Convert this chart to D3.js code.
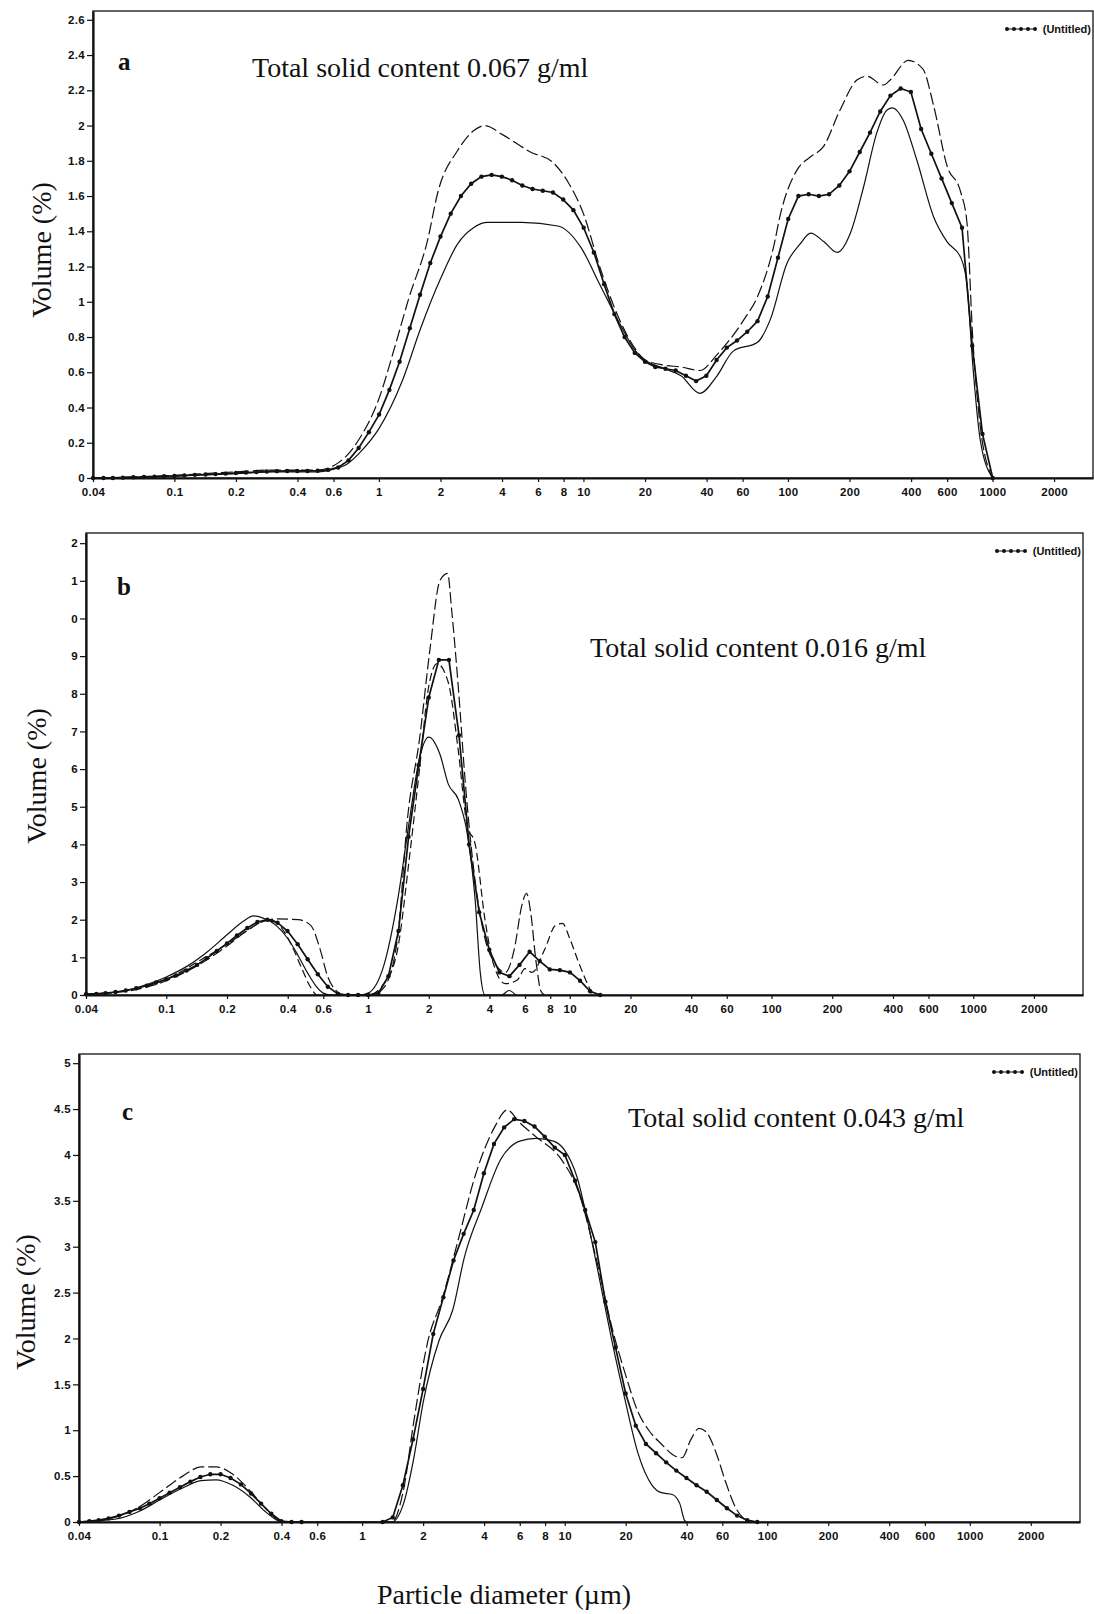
<!DOCTYPE html>
<html>
<head>
<meta charset="utf-8">
<script src="https://cdn.jsdelivr.net/npm/d3@7"></script>
<style>
  body { margin: 0; background: #fff; }
  svg { display: block; }
  .tick text { font-family: "Liberation Sans", Arial, sans-serif; font-weight: bold; font-size: 11.5px; letter-spacing: 0.3px; fill: #111; }
  .tick line { stroke: #111; stroke-width: 1.2; }
  .serif { font-family: "Liberation Serif", "Times New Roman", serif; fill: #111; }
</style>
</head>
<body>
<svg id="chart" width="1094" height="1614"></svg>
<script>
/**
 * DATA
 * size classes of the analyser (µm) - the mean curves are given per class
 */
const sizeClasses = [0.040,0.045,0.050,0.056,0.063,0.071,0.080,0.089,0.100,0.112,0.126,0.142,0.159,0.178,0.200,0.224,0.252,0.283,0.317,0.356,0.399,0.448,0.502,0.564,0.632,0.710,0.796,0.893,1.002,1.125,1.262,1.416,1.589,1.783,2.000,2.244,2.518,2.825,3.170,3.557,3.991,4.477,5.024,5.637,6.325,7.096,7.962,8.934,10.024,11.247,12.619,14.159,15.887,17.825,20.000,22.440,25.179,28.251,31.698,35.566,39.905,44.774,50.238,56.368,63.246,70.963,79.621,89.337,100.237,112.468,126.191,141.589,158.866,178.250,200.000,224.404,251.785,282.508,316.979,355.656,399.052,447.744,502.377,563.677,632.456,709.627,796.214,893.367,1002.374];

const xTicks = [0.04, 0.1, 0.2, 0.4, 0.6, 1, 2, 4, 6, 8, 10, 20, 40, 60, 100, 200, 400, 600, 1000, 2000];
const yTicksA = [0, 0.2, 0.4, 0.6, 0.8, 1, 1.2, 1.4, 1.6, 1.8, 2, 2.2, 2.4, 2.6];
const yTicksB = [0, 1, 2, 3, 4, 5, 6, 7, 8, 9, 10, 11, 12];
const yTicksC = [0, 0.5, 1, 1.5, 2, 2.5, 3, 3.5, 4, 4.5, 5];

// (a) mean volume % per size class
const meanA = [0,0,0,0.002,0.004,0.006,0.008,0.01,0.012,0.015,0.018,0.02,0.022,0.025,0.028,0.031,0.034,0.037,0.039,0.04,0.04,0.04,0.041,0.046,0.06,0.1,0.17,0.26,0.36,0.5,0.66,0.85,1.04,1.22,1.37,1.5,1.6,1.67,1.71,1.72,1.71,1.69,1.66,1.64,1.63,1.62,1.58,1.52,1.42,1.28,1.1,0.93,0.8,0.71,0.66,0.63,0.62,0.61,0.58,0.55,0.58,0.67,0.74,0.78,0.83,0.89,1.03,1.25,1.47,1.6,1.61,1.6,1.61,1.66,1.74,1.85,1.96,2.08,2.17,2.21,2.19,1.98,1.84,1.7,1.56,1.42,0.75,0.25,0];
// (a) single runs [size, volume]
const runA1 = [[0.04,0],[0.1,0.015],[0.2,0.035],[0.3,0.045],[0.5,0.045],[0.6,0.07],[0.7,0.13],[0.8,0.22],[1.0,0.45],[1.2,0.75],[1.4,1.02],[1.73,1.35],[1.94,1.62],[2.43,1.86],[2.9,1.97],[3.3,2.0],[4,1.95],[5.5,1.85],[7.1,1.79],[8.4,1.68],[10,1.5],[12,1.2],[15,0.9],[18,0.73],[20,0.67],[25,0.64],[30,0.63],[37,0.61],[45,0.7],[61,0.9],[71,1.03],[85,1.31],[92,1.5],[111,1.75],[128,1.82],[149,1.88],[180,2.09],[218,2.26],[243,2.28],[293,2.23],[317,2.26],[387,2.37],[457,2.32],[516,2.11],[600,1.77],[700,1.62],[750,1.45],[800,0.8],[870,0.3],[1000,0]];
const runA2 = [[0.04,0],[0.1,0.01],[0.2,0.025],[0.3,0.035],[0.5,0.035],[0.6,0.05],[0.7,0.08],[0.8,0.14],[1.0,0.28],[1.3,0.55],[1.6,0.85],[2.0,1.13],[2.43,1.33],[2.9,1.42],[3.4,1.45],[5,1.45],[7.5,1.43],[9.7,1.31],[12,1.1],[15,0.88],[18,0.72],[20,0.67],[25,0.62],[30,0.58],[37,0.48],[45,0.58],[54,0.72],[71,0.77],[82,0.9],[99,1.22],[115,1.33],[129,1.39],[150,1.34],[174,1.28],[202,1.39],[234,1.65],[272,1.96],[306,2.09],[324,2.1],[366,2.03],[425,1.81],[516,1.48],[600,1.34],[700,1.25],[750,1.1],[800,0.65],[870,0.22],[1000,0]];

// (b)
const meanB = [0.02,0.03,0.05,0.08,0.12,0.18,0.25,0.33,0.42,0.52,0.65,0.8,0.98,1.17,1.37,1.58,1.78,1.94,2.0,1.92,1.7,1.35,0.95,0.55,0.22,0.03,0,0,0,0.05,0.5,1.7,4.2,6.1,7.9,8.9,8.9,6.9,4.0,2.2,1.2,0.6,0.5,0.8,1.15,0.9,0.68,0.66,0.6,0.38,0.1,0];
const runB1 = [[0.04,0.02],[0.06,0.1],[0.08,0.28],[0.1,0.48],[0.13,0.8],[0.16,1.15],[0.2,1.6],[0.24,1.95],[0.27,2.1],[0.3,2.05],[0.35,1.85],[0.4,1.5],[0.45,1.05],[0.5,0.6],[0.55,0.25],[0.6,0.05],[0.65,0],[0.9,0],[1.0,0.05],[1.2,0.8],[1.4,2.5],[1.6,4.6],[1.8,6.3],[2.0,6.85],[2.27,6.4],[2.5,5.6],[2.8,5.2],[3.1,4.3],[3.4,2.5],[3.6,0.6],[3.8,0],[4.6,0],[5.0,0.12],[5.4,0]];
const runB2 = [[0.04,0.02],[0.06,0.08],[0.1,0.38],[0.15,0.85],[0.2,1.3],[0.25,1.7],[0.3,1.95],[0.35,2.02],[0.45,2.0],[0.52,1.85],[0.58,1.2],[0.63,0.5],[0.7,0.1],[0.75,0],[1.05,0],[1.2,0.2],[1.4,1.5],[1.57,4.7],[1.8,6.8],[2.03,9.2],[2.27,11.0],[2.48,11.2],[2.6,10.2],[2.8,8.2],[3.05,5.5],[3.4,3.0],[3.8,1.5],[4.3,0.8],[4.8,0.6],[5.3,1.2],[5.8,2.4],[6.1,2.7],[6.4,2.2],[6.8,0.9],[7.2,0.1],[7.5,0]];
const runB3 = [[0.04,0.02],[0.06,0.1],[0.1,0.42],[0.15,0.95],[0.2,1.35],[0.25,1.7],[0.3,1.95],[0.33,2.0],[0.37,1.8],[0.42,1.3],[0.47,0.7],[0.52,0.2],[0.56,0],[1.0,0],[1.2,0.3],[1.4,1.2],[1.6,3.6],[1.8,6.0],[2.0,8.2],[2.2,8.8],[2.5,8.3],[2.8,6.5],[3.1,4.5],[3.4,4.0],[3.8,2.0],[4.2,0.8],[4.8,0.3],[5.5,0.4],[6.0,0.7],[6.5,0.6],[7.5,1.2],[8.5,1.85],[9.2,1.9],[10,1.5],[11,0.9],[12,0.4],[13,0]];

// (c)
const meanC = [0,0.01,0.02,0.04,0.07,0.11,0.15,0.2,0.26,0.32,0.38,0.44,0.49,0.52,0.52,0.48,0.41,0.31,0.2,0.09,0.01,0,0,null,null,null,null,null,null,null,0,0.05,0.4,0.9,1.45,2.05,2.45,2.85,3.14,3.4,3.8,4.12,4.3,4.39,4.37,4.31,4.2,4.08,4.0,3.72,3.4,3.05,2.4,1.9,1.4,1.05,0.85,0.75,0.65,0.56,0.48,0.4,0.33,0.24,0.15,0.07,0.02,0];
const runC1 = [[0.04,0],[0.06,0.05],[0.08,0.17],[0.1,0.32],[0.13,0.5],[0.16,0.6],[0.19,0.6],[0.23,0.52],[0.28,0.34],[0.33,0.16],[0.38,0.03],[0.41,0],[1.4,0],[1.6,0.35],[1.8,1.1],[2.1,1.95],[2.5,2.45],[3.0,3.1],[3.6,3.76],[4.5,4.3],[5.2,4.49],[6.0,4.35],[7.2,4.2],[9.7,3.94],[11.7,3.6],[14.2,2.9],[17.2,2.1],[20,1.6],[23,1.2],[26,1.0],[30,0.85],[35,0.72],[38,0.7],[42,0.9],[46,1.02],[50,0.98],[56,0.75],[62,0.45],[70,0.15],[78,0.02],[80,0]];
const runC2 = [[0.04,0],[0.06,0.03],[0.08,0.12],[0.1,0.24],[0.13,0.37],[0.16,0.45],[0.19,0.46],[0.23,0.4],[0.28,0.27],[0.33,0.12],[0.38,0.02],[0.4,0],[1.4,0],[1.6,0.2],[1.8,0.7],[2.0,1.3],[2.4,1.98],[2.8,2.31],[3.2,2.89],[3.9,3.43],[4.8,3.94],[6.0,4.15],[7.2,4.18],[8.8,4.15],[10,4.05],[11.5,3.76],[13.2,3.2],[15,2.6],[17,2.0],[20,1.3],[23,0.75],[27,0.4],[30,0.32],[34,0.3],[37,0.2],[39,0.02],[40,0]];

const panelTitles = ["Total solid content 0.067 g/ml", "Total solid content 0.016 g/ml", "Total solid content 0.043 g/ml"];
const panelLetters = ["a", "b", "c"];
const legendText = "(Untitled)";

/**
 * LAYOUT
 * */
const svg = d3.select("#chart");
svg.append("rect").attr("width", 1094).attr("height", 1614).attr("fill", "#fff");

const panels = [
  { letter: panelLetters[0], title: panelTitles[0], mean: meanA,
    runs: [{ data: runA1, dash: "12,4" }, { data: runA2, dash: null }],
    yTicks: yTicksA, yMax: 2.65, xMax: 3100, yFmt: d => String(d),
    left: 93, right: 1093, top: 11, bottom: 478,
    letterPos: [118, 70], titlePos: [252, 77], ylabPos: [51, 250] },
  { letter: panelLetters[1], title: panelTitles[1], mean: meanB,
    runs: [{ data: runB1, dash: null }, { data: runB2, dash: "11,4" }, { data: runB3, dash: "8,4" }],
    yTicks: yTicksB, yMax: 12.27, xMax: 3500, yFmt: d => String(d % 10),
    left: 86, right: 1083, top: 533, bottom: 995,
    letterPos: [117, 595], titlePos: [590, 657], ylabPos: [46, 776] },
  { letter: panelLetters[2], title: panelTitles[2], mean: meanC,
    runs: [{ data: runC1, dash: "12,4" }, { data: runC2, dash: null }],
    yTicks: yTicksC, yMax: 5.1, xMax: 3500, yFmt: d => String(d),
    left: 79, right: 1080, top: 1054, bottom: 1522,
    letterPos: [122, 1120], titlePos: [628, 1127], ylabPos: [35, 1302] }
];

panels.forEach(drawPanel);

svg.append("text")
  .attr("class", "serif")
  .attr("x", 377)
  .attr("y", 1604)
  .attr("font-size", 28)
  .text("Particle diameter (µm)");

function drawPanel(p) {
  const g = svg.append("g");

  const x = d3.scaleLog().domain([0.04, p.xMax]).range([p.left, p.right]);
  const y = d3.scaleLinear().domain([0, p.yMax]).range([p.bottom, p.top]);

  // frame
  g.append("rect")
    .attr("x", p.left).attr("y", p.top)
    .attr("width", p.right - p.left).attr("height", p.bottom - p.top)
    .attr("fill", "none").attr("stroke", "#111").attr("stroke-width", 1.3);

  // axes
  const xAxis = g.append("g")
    .attr("transform", `translate(0,${p.bottom})`)
    .call(d3.axisBottom(x).tickValues(xTicks).tickFormat(d => String(d)).tickSize(4).tickPadding(6).tickSizeOuter(0));
  xAxis.select(".domain").attr("stroke", "#111").attr("stroke-width", 1.8);

  const yAxis = g.append("g")
    .attr("transform", `translate(${p.left},0)`)
    .call(d3.axisLeft(y).tickValues(p.yTicks).tickFormat(p.yFmt).tickSize(6).tickPadding(2).tickSizeOuter(0));
  yAxis.select(".domain").attr("stroke", "#111").attr("stroke-width", 2.2);

  // single runs
  const runLine = d3.line()
    .curve(d3.curveMonotoneX)
    .x(d => x(d[0]))
    .y(d => y(d[1]));

  p.runs.forEach(r => {
    g.append("path")
      .datum(r.data)
      .attr("fill", "none")
      .attr("stroke", "#111")
      .attr("stroke-width", 1.2)
      .attr("stroke-dasharray", r.dash)
      .attr("d", runLine);
  });

  // mean curve with markers
  const meanPts = p.mean.map((v, i) => ({ size: sizeClasses[i], v: v }));
  const meanLine = d3.line()
    .defined(d => d.v !== null)
    .x(d => x(d.size))
    .y(d => y(d.v));

  g.append("path")
    .datum(meanPts)
    .attr("fill", "none")
    .attr("stroke", "#111")
    .attr("stroke-width", 1.7)
    .attr("d", meanLine);

  g.selectAll("circle.marker")
    .data(meanPts.filter(d => d.v !== null))
    .join("circle")
    .attr("class", "marker")
    .attr("cx", d => x(d.size))
    .attr("cy", d => y(d.v))
    .attr("r", 2.2)
    .attr("fill", "#111");

  // legend
  const lg = g.append("g").attr("transform", `translate(${p.right},${p.top + 18})`);
  lg.append("line").attr("x1", -86).attr("x2", -58).attr("stroke", "#111").attr("stroke-width", 1);
  lg.selectAll("circle")
    .data(d3.range(5))
    .join("circle")
    .attr("cx", d => -86 + d * 7)
    .attr("r", 2)
    .attr("fill", "#111");
  lg.append("text")
    .attr("x", -2)
    .attr("y", 4)
    .attr("text-anchor", "end")
    .attr("font-family", "Liberation Sans, Arial, sans-serif")
    .attr("font-weight", "bold")
    .attr("font-size", 11)
    .attr("fill", "#111")
    .text(legendText);

  // texts
  g.append("text")
    .attr("class", "serif")
    .attr("x", p.letterPos[0]).attr("y", p.letterPos[1])
    .attr("font-size", 25).attr("font-weight", "bold")
    .text(p.letter);

  g.append("text")
    .attr("class", "serif")
    .attr("x", p.titlePos[0]).attr("y", p.titlePos[1])
    .attr("font-size", 28)
    .text(p.title);

  g.append("text")
    .attr("class", "serif")
    .attr("transform", `translate(${p.ylabPos[0]},${p.ylabPos[1]}) rotate(-90)`)
    .attr("text-anchor", "middle")
    .attr("font-size", 28)
    .text("Volume (%)");
}
</script>
</body>
</html>
